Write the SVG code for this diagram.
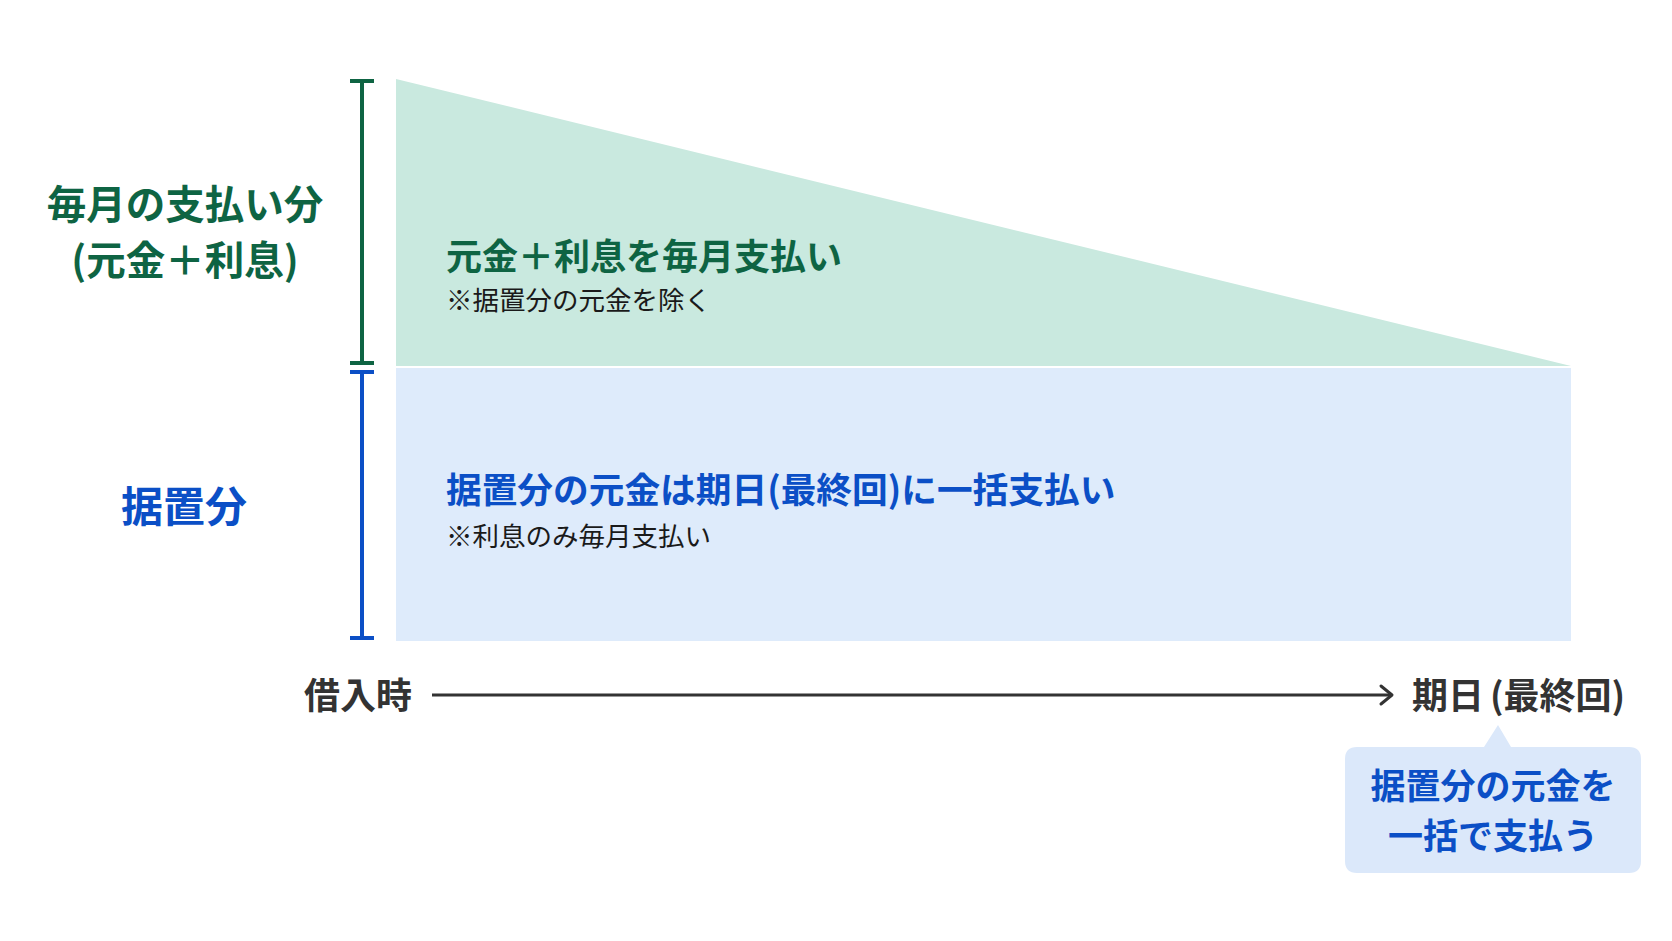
<svg xmlns="http://www.w3.org/2000/svg" width="1672" height="941" viewBox="0 0 1672 941">
  <defs>
    <style>
      text { font-family: "Noto Sans CJK JP", "Noto Sans", sans-serif; dominant-baseline: central; }
      .b { font-weight: 700; }
      .g { fill: #0e6443; }
      .bl { fill: #0b4fc6; }
      .k { fill: #333333; }
      .n { fill: #1a1a1a; font-weight: 400; font-size: 26.5px; }
      .gs { stroke: #0e6443; stroke-width: 4; fill: none; }
      .bs { stroke: #0b4fc6; stroke-width: 4; fill: none; }
    </style>
  </defs>
  <rect width="1672" height="941" fill="#ffffff"/>

  <g id="monthly-area">
    <polygon points="396,79 396,366 1571,366" fill="#c9e9df"/>
    <text class="b g" x="446" y="253.5" font-size="36">元金＋利息を毎月支払い</text>
    <text class="n" x="446" y="298.5">※据置分の元金を除く</text>
  </g>

  <g id="deferred-area">
    <rect x="396" y="368" width="1175" height="273" fill="#deebfb"/>
    <text class="b bl" x="446" y="487.5" font-size="35.7">据置分の元金は期日(最終回)に一括支払い</text>
    <text class="n" x="446" y="534.5">※利息のみ毎月支払い</text>
  </g>

  <g id="monthly-label">
    <path class="gs" d="M362,81 V363 M350,81 H374 M350,363 H374"/>
    <text class="b g" x="185" y="201" font-size="39.5" text-anchor="middle">毎月の支払い分</text>
    <text class="b g" x="185" y="257" font-size="39.5" text-anchor="middle">(元金＋利息)</text>
  </g>

  <g id="deferred-label">
    <path class="bs" d="M362,372 V638 M350,372 H374 M350,638 H374"/>
    <text class="b bl" x="184" y="503" font-size="42" text-anchor="middle">据置分</text>
  </g>

  <g id="start-label">
    <text class="b k" x="304" y="692.5" font-size="36">借入時</text>
  </g>

  <g id="end-label">
    <text class="b k" x="1412" y="692.5" font-size="36">期日<tspan dx="6">(最終回)</tspan></text>
  </g>

  <g id="callout">
    <path d="M1357,747 H1484 L1498,725 L1511,747 H1629 Q1641,747 1641,759 V861 Q1641,873 1629,873 H1357 Q1345,873 1345,861 V759 Q1345,747 1357,747 Z" fill="#dbe8fa"/>
    <text class="b bl" x="1493" y="783" font-size="35" text-anchor="middle">据置分の元金を</text>
    <text class="b bl" x="1493" y="833" font-size="35" text-anchor="middle">一括で支払う</text>
  </g>

  <g id="connectors">
    <line x1="432" y1="695" x2="1391" y2="695" stroke="#333333" stroke-width="3"/>
    <polyline points="1381,686 1392,695 1381,704" fill="none" stroke="#333333" stroke-width="3" stroke-linecap="round" stroke-linejoin="round"/>
  </g>
</svg>
